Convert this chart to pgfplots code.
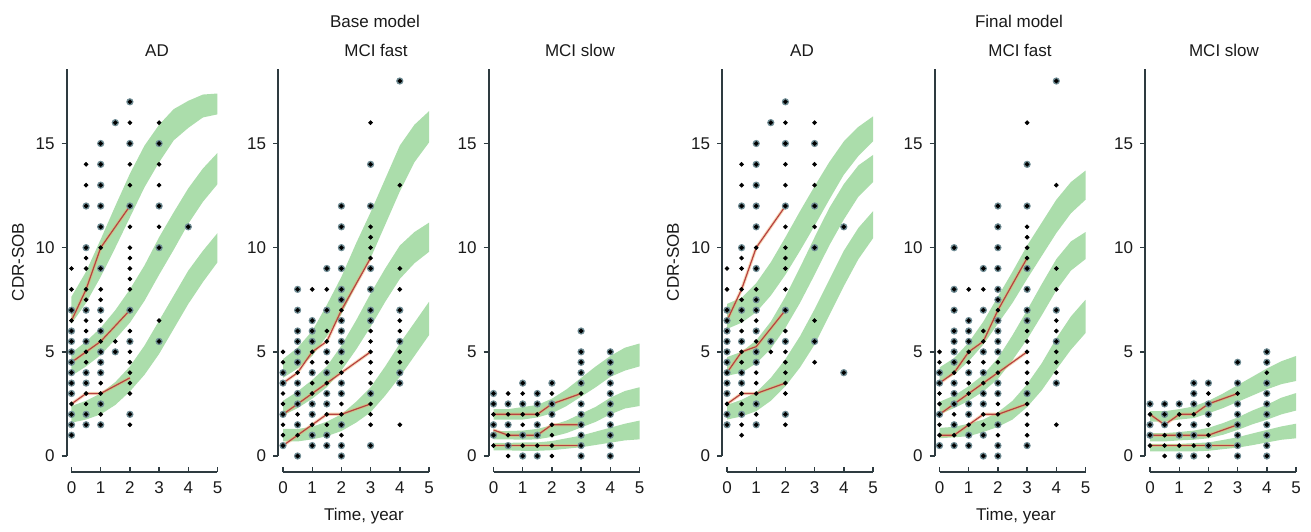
\documentclass[border=0pt]{standalone}
\usepackage{pgfplots}
\pgfplotsset{compat=1.18}
\usepackage{fontspec}
\setmainfont{Liberation Sans}
\definecolor{bandg}{HTML}{ABDDAB}
\definecolor{axcol}{HTML}{2E3B40}
\definecolor{halocol}{HTML}{6F8C94}
\definecolor{obsred}{HTML}{B8423F}
\definecolor{obsorange}{HTML}{EBA866}
\definecolor{txt}{HTML}{1A1A1A}
\newcommand{\fs}{\fontsize{8.5}{10}\selectfont}
\pgfplotsset{
  panel/.style={
    scale only axis, width=73pt, height=193.75pt,
    xmin=0, xmax=5, ymin=0, ymax=18.6,
    axis x line=bottom, axis y line=left,
    axis line style={-, draw=axcol, line width=1pt},
    axis x line shift=8pt, axis y line shift=2.4pt,
    xtick={0,1,2,3,4,5}, ytick={0,5,10,15},
    tick style={draw=axcol, line width=0.7pt},
    major tick length=2.5pt, tick align=outside,
    x tick style={yshift=2.5pt},
    xticklabel style={yshift=1pt},
    /pgf/number format/assume math mode=true,
    tick label style={font=\fs, text=txt},
    clip=false, anchor=south west,
  },
  band/.style={fill=bandg, draw=none},
  halo/.style={only marks, mark=*, color=halocol, mark size=1.6pt, mark options={fill=halocol, draw=none}},
  dots/.style={only marks, mark=*, color=black, mark size=0.95pt, mark options={fill=black, draw=none}},
  obsu/.style={draw=obsorange, line width=1.6pt, opacity=0.45, no marks},
  obs/.style={draw=obsred, line width=0.6pt, no marks},
}
\newcommand{\obsline}[1]{\addplot[obsu] coordinates {#1};\addplot[obs] coordinates {#1};}
\begin{document}
\begin{tikzpicture}
\useasboundingbox (0,0) rectangle (655.5pt,-265.5pt);
\tikzset{every node/.style={font=\fs, text=txt}}
% ---------- Base model: AD ----------
\begin{axis}[panel, at={(35.75pt,-228pt)}]
\addplot[band] coordinates {(0,7.65)(0.5,8.85)(1,10.4)(1.5,12.0)(2,13.55)(2.5,14.9)(3,15.9)(3.5,16.65)(4,17.05)(4.5,17.35)(5,17.4)(5,16.4)(4.5,16.25)(4,15.75)(3.5,15.15)(3,14.1)(2.5,12.9)(2,11.45)(1.5,10.0)(1,8.6)(0.5,7.35)(0,6.35)};
\addplot[band] coordinates {(0,4.95)(0.5,5.5)(1,6.15)(1.5,7.0)(2,8.0)(2.5,9.15)(3,10.5)(3.5,11.7)(4,12.85)(4.5,13.8)(5,14.55)(5,13.05)(4.5,12.2)(4,11.15)(3.5,9.9)(3,8.7)(2.5,7.45)(2,6.4)(1.5,5.6)(1,4.85)(0.5,4.3)(0,3.85)};
\addplot[band] coordinates {(0,2.4)(0.5,2.65)(1,3.0)(1.5,3.55)(2,4.3)(2.5,5.3)(3,6.5)(3.5,7.7)(4,8.9)(4.5,9.85)(5,10.7)(5,9.3)(4.5,8.35)(4,7.3)(3.5,6.1)(3,4.9)(2.5,3.9)(2,3.1)(1.5,2.45)(1,2.0)(0.5,1.75)(0,1.6)};
\addplot[halo] coordinates {(0,1)(0,1.5)(0,2)(0,3)(0,3.5)(0,4)(0,4.5)(0,5)(0,5.5)(0,6)(0,7)(0.5,1.5)(0.5,2)(0.5,3.5)(0.5,4)(0.5,5.5)(0.5,7)(0.5,10)(0.5,12)(1,1.5)(1,2.5)(1,4)(1,4.5)(1,5)(1,6)(1,7)(1,9)(1,11)(1,12)(1,13)(1,14)(1,15)(1.5,5)(1.5,16)(2,2)(2,5.5)(2,7)(2,12)(2,15)(2,17)(3,5.5)(3,10)(3,12)(3,15)(4,11)};
\obsline{(0,6.5)(0.5,8)(1,10)(2,12)}
\obsline{(0,4.5)(0.5,5)(1,5.5)(2,7)}
\obsline{(0,2.5)(0.5,3)(1,3)(2,3.75)}
\addplot[dots] coordinates {(0,1)(0,1.5)(0,2)(0,2.5)(0,3)(0,3.5)(0,4)(0,4.5)(0,5)(0,5.5)(0,6)(0,6.5)(0,7)(0,8)(0,9)
(0.5,1.5)(0.5,2)(0.5,2.5)(0.5,3)(0.5,3.5)(0.5,4)(0.5,4.5)(0.5,5)(0.5,5.5)(0.5,6)(0.5,6.5)(0.5,7)(0.5,7.5)(0.5,8)(0.5,9)(0.5,9.5)(0.5,10)(0.5,12)(0.5,13)(0.5,14)
(1,1.5)(1,2)(1,2.5)(1,3)(1,3.5)(1,4)(1,4.5)(1,5)(1,5.5)(1,6)(1,6.5)(1,7)(1,7.5)(1,8)(1,9)(1,10)(1,11)(1,12)(1,13)(1,14)(1,15)
(1.5,5)(1.5,5.5)(1.5,16)
(2,1.5)(2,2)(2,3)(2,3.5)(2,4)(2,4.5)(2,5)(2,5.5)(2,6)(2,7)(2,8)(2,8.5)(2,9)(2,9.5)(2,10)(2,11)(2,12)(2,13)(2,14)(2,15)(2,16)(2,17)
(3,5.5)(3,6.5)(3,10)(3,11)(3,12)(3,13)(3,14)(3,15)(3,16)(4,11)};
\end{axis}
% ---------- Base model: MCI fast ----------
\begin{axis}[panel, at={(141.5pt,-228pt)}]
\addplot[band] coordinates {(0,4.65)(0.5,5.2)(1,6.0)(1.5,7.25)(2,8.6)(2.5,10.2)(3,11.7)(3.5,13.3)(4,14.9)(4.5,15.9)(5,16.55)(5,15.05)(4.5,14.1)(4,12.7)(3.5,11.1)(3,9.5)(2.5,8.2)(2,6.8)(1.5,5.75)(1,4.8)(0.5,4.2)(0,3.75)};
\addplot[band] coordinates {(0,2.65)(0.5,3.1)(1,3.65)(1.5,4.3)(2,5.3)(2.5,6.5)(3,7.8)(3.5,9.0)(4,10.1)(4.5,10.75)(5,11.2)(5,9.8)(4.5,9.25)(4,8.5)(3.5,7.4)(3,6.2)(2.5,5.1)(2,4.1)(1.5,3.3)(1,2.75)(0.5,2.3)(0,1.95)};
\addplot[band] coordinates {(0,1.3)(0.5,1.3)(1,1.4)(1.5,1.65)(2,2.0)(2.5,2.6)(3,3.3)(3.5,4.3)(4,5.4)(4.5,6.4)(5,7.4)(5,5.8)(4.5,4.8)(4,3.8)(3.5,2.9)(3,2.1)(2.5,1.6)(2,1.2)(1.5,0.95)(1,0.8)(0.5,0.7)(0,0.7)};
\addplot[halo] coordinates {(0,4)(0,3.5)(0,2)(0,0.5)(0.5,8)(0.5,7)(0.5,6)(0.5,5.5)(0.5,5)(0.5,4.5)(0.5,3.5)(0.5,3)(0.5,2.5)(0.5,1.5)(0.5,0)(1,6.5)(1,6)(1,5.5)(1,4)(1,2.5)(1,2)(1,1)(1,0.5)(1.5,9)(1.5,7)(1.5,5)(1.5,4)(1.5,3)(1.5,2.5)(1.5,1)(1.5,0.5)(2,12)(2,11)(2,10)(2,9)(2,8)(2,7.5)(2,6.5)(2,6)(2,5.5)(2,5)(2,3.5)(2,3)(2,1.5)(2,0.5)(2,0)(3,14)(3,12)(3,9)(3,8)(3,7)(3,6.5)(3,3)(3,0.5)(4,18)(4,7)(4,5.5)(4,4)(4,3.5)};
\obsline{(0,3.5)(0.5,4)(1,5)(1.5,5.5)(2,7)(3,9.5)}
\obsline{(0,2)(0.5,2.5)(1,3)(1.5,3.5)(2,4)(3,5)}
\obsline{(0,0.5)(0.5,1)(1,1.5)(1.5,2)(2,2)(3,2.5)}
\addplot[dots] coordinates {(0,0.5)(0,1)(0,1.5)(0,2)(0,2.5)(0,3)(0,3.5)(0,4)(0,4.5)(0,5)
(0.5,0)(0.5,1)(0.5,1.5)(0.5,2)(0.5,2.5)(0.5,3)(0.5,3.5)(0.5,4)(0.5,4.5)(0.5,5)(0.5,5.5)(0.5,6)(0.5,7)(0.5,8)
(1,0.5)(1,1)(1,1.5)(1,2)(1,2.5)(1,3)(1,3.5)(1,4)(1,4.5)(1,5)(1,5.5)(1,6)(1,6.5)(1,8)
(1.5,0.5)(1.5,1)(1.5,1.5)(1.5,2)(1.5,2.5)(1.5,3)(1.5,3.5)(1.5,4)(1.5,4.5)(1.5,5)(1.5,5.5)(1.5,6)(1.5,7)(1.5,8)(1.5,9)
(2,0)(2,0.5)(2,1)(2,1.5)(2,2)(2,2.5)(2,3)(2,3.5)(2,4)(2,4.5)(2,5)(2,5.5)(2,6)(2,6.5)(2,7)(2,7.5)(2,8)(2,9)(2,10)(2,11)(2,12)
(3,0.5)(3,1.5)(3,2)(3,2.5)(3,3)(3,3.5)(3,4)(3,4.5)(3,5)(3,5.5)(3,6)(3,6.5)(3,7)(3,8)(3,9)(3,9.5)(3,10)(3,10.5)(3,11)(3,12)(3,14)(3,16)
(4,1.5)(4,3.5)(4,4)(4,4.5)(4,5)(4,5.5)(4,6)(4,6.5)(4,7)(4,8)(4,9)(4,13)(4,18)};
\end{axis}
% ---------- Base model: MCI slow ----------
\begin{axis}[panel, at={(246.75pt,-228pt)}]
\addplot[band] coordinates {(0,2.25)(0.5,2.25)(1,2.35)(1.5,2.45)(2,2.75)(2.5,3.2)(3,3.75)(3.5,4.3)(4,4.8)(4.5,5.2)(5,5.4)(5,4.3)(4.5,4.1)(4,3.8)(3.5,3.3)(3,2.85)(2.5,2.4)(2,2.05)(1.5,1.85)(1,1.75)(0.5,1.75)(0,1.75)};
\addplot[band] coordinates {(0,1.2)(0.5,1.2)(1,1.22)(1.5,1.3)(2,1.48)(2.5,1.7)(3,2.03)(3.5,2.36)(4,2.8)(4.5,3.12)(5,3.3)(5,2.4)(4.5,2.28)(4,2.0)(3.5,1.64)(3,1.37)(2.5,1.1)(2,0.92)(1.5,0.8)(1,0.78)(0.5,0.8)(0,0.8)};
\addplot[band] coordinates {(0,0.63)(0.5,0.63)(1,0.65)(1.5,0.65)(2,0.72)(2.5,0.85)(3,0.98)(3.5,1.17)(4,1.36)(4.5,1.55)(5,1.7)(5,0.8)(4.5,0.75)(4,0.64)(3.5,0.53)(3,0.42)(2.5,0.35)(2,0.28)(1.5,0.25)(1,0.25)(0.5,0.27)(0,0.27)};
\addplot[halo] coordinates {(0,3)(0,2.5)(0,1.5)(0,1)(0.5,2.5)(0.5,1.5)(0.5,0.5)(1,3.5)(1,2.5)(1,1)(1,0)(1.5,3)(1.5,2.5)(1.5,1.5)(1.5,1)(1.5,0)(2,3.5)(2,2.5)(2,2)(3,6)(3,5)(3,4.5)(3,4)(3,3.5)(3,2.5)(3,2)(3,1.5)(3,1)(3,0.5)(3,0)(4,5)(4,4.5)(4,4)(4,3.5)(4,3)(4,2.5)(4,2)(4,1.5)(4,1)(4,0.5)(4,0)};
\obsline{(0,2)(0.5,2)(1,2)(1.5,2)(2,2.5)(3,3)}
\obsline{(0,1.25)(0.5,1)(1,1)(1.5,1)(2,1.5)(3,1.5)}
\obsline{(0,0.5)(0.5,0.5)(1,0.5)(1.5,0.5)(2,0.5)(3,0.5)}
\addplot[dots] coordinates {(0,0.5)(0,1)(0,1.5)(0,2)(0,2.5)(0,3)
(0.5,0)(0.5,0.5)(0.5,1)(0.5,1.5)(0.5,2)(0.5,2.5)(0.5,3)
(1,0)(1,0.5)(1,1)(1,1.5)(1,2)(1,2.5)(1,3)(1,3.5)
(1.5,0)(1.5,0.5)(1.5,1)(1.5,1.5)(1.5,2)(1.5,2.5)(1.5,3)
(2,0)(2,0.5)(2,1)(2,1.5)(2,2)(2,2.5)(2,3)(2,3.5)
(3,0)(3,0.5)(3,1)(3,1.5)(3,2)(3,2.5)(3,3)(3,3.5)(3,4)(3,4.5)(3,5)(3,6)
(4,0)(4,0.5)(4,1)(4,1.5)(4,2)(4,2.5)(4,3)(4,3.5)(4,4)(4,4.5)(4,5)};
\end{axis}
% ---------- Final model: AD ----------
\begin{axis}[panel, at={(363.5pt,-228pt)}]
\addplot[band] coordinates {(0,7.3)(0.5,7.6)(1,8.3)(1.5,9.3)(2,10.5)(2.5,11.75)(3,12.95)(3.5,14.1)(4,15.1)(4.5,15.8)(5,16.3)(5,15.1)(4.5,14.4)(4,13.5)(3.5,12.3)(3,11.05)(2.5,9.85)(2,8.7)(1.5,7.7)(1,6.9)(0.5,6.4)(0,6.1)};
\addplot[band] coordinates {(0,4.75)(0.5,5.0)(1,5.55)(1.5,6.45)(2,7.65)(2.5,9.05)(3,10.5)(3.5,11.9)(4,13.05)(4.5,13.95)(5,14.45)(5,13.15)(4.5,12.45)(4,11.35)(3.5,10.1)(3,8.7)(2.5,7.35)(2,6.15)(1.5,5.15)(1,4.45)(0.5,4.0)(0,3.85)};
\addplot[band] coordinates {(0,2.45)(0.5,2.7)(1,3.05)(1.5,3.75)(2,4.65)(2.5,5.75)(3,7.05)(3.5,8.45)(4,9.85)(4.5,10.95)(5,11.75)(5,10.45)(4.5,9.45)(4,8.15)(3.5,6.75)(3,5.35)(2.5,4.25)(2,3.35)(1.5,2.65)(1,2.15)(0.5,1.9)(0,1.75)};
\addplot[halo] coordinates {(0,1.5)(0,2)(0,3)(0,3.5)(0,4)(0,4.5)(0,5)(0,5.5)(0,6)(0,6.5)(0,7)(0.5,2)(0.5,3.5)(0.5,4)(0.5,5.5)(0.5,7)(0.5,10)(0.5,12)(1,1.5)(1,2.5)(1,4.5)(1,5)(1,6)(1,7)(1,7.5)(1,9)(1,11)(1,12)(1,13)(1,14)(1,15)(1.5,5.5)(1.5,16)(2,2)(2,5.5)(2,7)(2,12)(2,15)(2,17)(3,5.5)(3,10)(3,12)(3,15)(4,4)(4,11)};
\obsline{(0,6.5)(0.5,8)(1,10)(2,12)}
\obsline{(0,4)(0.5,5)(1,5.25)(2,7)}
\obsline{(0,2.5)(0.5,3)(1,3)(2,3.5)}
\addplot[dots] coordinates {(0,1.5)(0,2)(0,2.5)(0,3)(0,3.5)(0,4)(0,4.5)(0,5)(0,5.5)(0,6)(0,6.5)(0,7)(0,8)(0,9)
(0.5,1)(0.5,1.5)(0.5,2)(0.5,2.5)(0.5,3)(0.5,3.5)(0.5,4)(0.5,4.5)(0.5,5)(0.5,5.5)(0.5,6)(0.5,6.5)(0.5,7)(0.5,7.5)(0.5,8)(0.5,9)(0.5,9.5)(0.5,10)(0.5,12)(0.5,13)(0.5,14)
(1,1.5)(1,2)(1,2.5)(1,3)(1,3.5)(1,4)(1,4.5)(1,5)(1,5.5)(1,6)(1,6.5)(1,7)(1,7.5)(1,8)(1,9)(1,10)(1,11)(1,12)(1,13)(1,14)(1,15)
(1.5,5)(1.5,5.5)(1.5,16)
(2,1.5)(2,2)(2,3)(2,3.5)(2,4)(2,4.5)(2,5)(2,5.5)(2,6)(2,7)(2,8)(2,9)(2,9.5)(2,10)(2,11)(2,12)(2,13)(2,14)(2,15)(2,16)(2,17)
(3,4.5)(3,5.5)(3,6.5)(3,10)(3,11)(3,12)(3,13)(3,14)(3,15)(3,16)(4,4)(4,11)};
\end{axis}
% ---------- Final model: MCI fast ----------
\begin{axis}[panel, at={(469.75pt,-228pt)}]
\addplot[band] coordinates {(0,4.25)(0.5,4.7)(1,5.45)(1.5,6.45)(2,7.65)(2.5,8.85)(3,10.1)(3.5,11.2)(4,12.3)(4.5,13.15)(5,13.7)(5,12.3)(4.5,11.65)(4,10.7)(3.5,9.6)(3,8.5)(2.5,7.35)(2,6.35)(1.5,5.35)(1,4.55)(0.5,3.9)(0,3.55)};
\addplot[band] coordinates {(0,2.6)(0.5,2.9)(1,3.35)(1.5,3.9)(2,4.7)(2.5,5.8)(3,7.0)(3.5,8.25)(4,9.45)(4.5,10.3)(5,10.75)(5,9.45)(4.5,8.9)(4,7.95)(3.5,6.75)(3,5.6)(2.5,4.6)(2,3.7)(1.5,3.1)(1,2.65)(0.5,2.3)(0,2.0)};
\addplot[band] coordinates {(0,1.35)(0.5,1.4)(1,1.55)(1.5,1.75)(2,2.1)(2.5,2.65)(3,3.45)(3.5,4.45)(4,5.65)(4.5,6.7)(5,7.5)(5,5.9)(4.5,5.1)(4,4.15)(3.5,3.15)(3,2.35)(2.5,1.75)(2,1.4)(1.5,1.15)(1,0.95)(0.5,0.9)(0,0.85)};
\addplot[halo] coordinates {(0,4)(0,3.5)(0,2)(0,0.5)(0.5,10)(0.5,8)(0.5,7)(0.5,6)(0.5,5.5)(0.5,5)(0.5,4.5)(0.5,3.5)(0.5,3)(0.5,2.5)(0.5,1.5)(0.5,0.5)(1,6.5)(1,6)(1,5.5)(1,4)(1,2.5)(1,2)(1,1)(1,0.5)(1.5,9)(1.5,7)(1.5,5)(1.5,4)(1.5,3)(1.5,2.5)(1.5,1)(1.5,0)(2,12)(2,11)(2,10)(2,9)(2,8)(2,7.5)(2,6.5)(2,6)(2,5.5)(2,5)(2,3.5)(2,3)(2,1.5)(2,0.5)(2,0)(3,14)(3,12)(3,9)(3,8)(3,7)(3,6.5)(3,3)(3,0.5)(4,18)(4,7)(4,5.5)(4,3.5)};
\obsline{(0,3.5)(0.5,4)(1,5)(1.5,5.5)(2,7)(3,9.5)}
\obsline{(0,2)(0.5,2.5)(1,3)(1.5,3.5)(2,4)(3,5)}
\obsline{(0,1)(0.5,1)(1,1.5)(1.5,2)(2,2)(3,2.5)}
\addplot[dots] coordinates {(0,0.5)(0,1)(0,1.5)(0,2)(0,2.5)(0,3)(0,3.5)(0,4)(0,4.5)(0,5)
(0.5,0.5)(0.5,1)(0.5,1.5)(0.5,2)(0.5,2.5)(0.5,3)(0.5,3.5)(0.5,4)(0.5,4.5)(0.5,5)(0.5,5.5)(0.5,6)(0.5,7)(0.5,8)(0.5,10)
(1,0.5)(1,1)(1,1.5)(1,2)(1,2.5)(1,3)(1,3.5)(1,4)(1,4.5)(1,5)(1,5.5)(1,6)(1,6.5)(1,8)
(1.5,0)(1.5,1)(1.5,1.5)(1.5,2)(1.5,2.5)(1.5,3)(1.5,3.5)(1.5,4)(1.5,4.5)(1.5,5)(1.5,5.5)(1.5,6)(1.5,7)(1.5,8)(1.5,9)
(2,0)(2,0.5)(2,1)(2,1.5)(2,2)(2,2.5)(2,3)(2,3.5)(2,4)(2,4.5)(2,5)(2,5.5)(2,6)(2,6.5)(2,7)(2,7.5)(2,8)(2,9)(2,10)(2,11)(2,12)
(3,0.5)(3,1)(3,1.5)(3,2)(3,2.5)(3,3)(3,3.5)(3,4)(3,4.5)(3,5)(3,5.5)(3,6)(3,6.5)(3,7)(3,8)(3,9)(3,9.5)(3,10)(3,10.5)(3,11)(3,12)(3,14)(3,16)
(4,1.5)(4,3.5)(4,4)(4,4.5)(4,5)(4,5.5)(4,6)(4,6.5)(4,7)(4,8)(4,9)(4,13)(4,18)};
\end{axis}
% ---------- Final model: MCI slow ----------
\begin{axis}[panel, at={(575pt,-228pt)}]
\addplot[band] coordinates {(0,2.15)(0.5,2.15)(1,2.25)(1.5,2.38)(2,2.65)(2.5,3.0)(3,3.4)(3.5,3.8)(4,4.2)(4.5,4.55)(5,4.8)(5,3.6)(4.5,3.45)(4,3.2)(3.5,2.9)(3,2.6)(2.5,2.3)(2,2.05)(1.5,1.82)(1,1.75)(0.5,1.65)(0,1.65)};
\addplot[band] coordinates {(0,1.1)(0.5,1.1)(1,1.15)(1.5,1.22)(2,1.35)(2.5,1.58)(3,1.85)(3.5,2.18)(4,2.46)(4.5,2.8)(5,3.02)(5,2.18)(4.5,2.0)(4,1.74)(3.5,1.52)(3,1.25)(2.5,1.02)(2,0.85)(1.5,0.78)(1,0.75)(0.5,0.7)(0,0.7)};
\addplot[band] coordinates {(0,0.58)(0.5,0.58)(1,0.58)(1.5,0.62)(2,0.65)(2.5,0.77)(3,0.9)(3.5,1.08)(4,1.25)(4.5,1.42)(5,1.55)(5,0.85)(4.5,0.78)(4,0.65)(3.5,0.52)(3,0.4)(2.5,0.33)(2,0.25)(1.5,0.22)(1,0.22)(0.5,0.22)(0,0.22)};
\addplot[halo] coordinates {(0,2.5)(0,1.5)(0,1)(0.5,2.5)(0.5,2)(0.5,1.5)(1,2.5)(1,1)(1,0)(1.5,3.5)(1.5,3)(1.5,2.5)(1.5,1.5)(1.5,1)(1.5,0)(2,3.5)(2,2.5)(2,2)(2,0.5)(3,4.5)(3,3.5)(3,2.5)(3,2)(3,1.5)(3,1)(3,0.5)(3,0)(4,5)(4,4.5)(4,3.5)(4,3)(4,2.5)(4,2)(4,1.5)(4,1)(4,0.5)(4,0)};
\obsline{(0,2)(0.5,1.5)(1,2)(1.5,2)(2,2.5)(3,3)}
\obsline{(0,1)(0.5,1)(1,1)(1.5,1)(2,1)(3,1.5)}
\obsline{(0,0.5)(0.5,0.5)(1,0.5)(1.5,0.5)(2,0.5)(3,0.5)}
\addplot[dots] coordinates {(0,0.5)(0,1)(0,1.5)(0,2)(0,2.5)
(0.5,0)(0.5,0.5)(0.5,1)(0.5,1.5)(0.5,2)(0.5,2.5)
(1,0)(1,0.5)(1,1)(1,1.5)(1,2)(1,2.5)
(1.5,0)(1.5,0.5)(1.5,1)(1.5,1.5)(1.5,2)(1.5,2.5)(1.5,3)(1.5,3.5)
(2,0)(2,0.5)(2,1)(2,1.5)(2,2)(2,2.5)(2,3)(2,3.5)
(3,0)(3,0.5)(3,1)(3,1.5)(3,2)(3,2.5)(3,3)(3,3.5)(3,4.5)
(4,0)(4,0.5)(4,1)(4,1.5)(4,2)(4,2.5)(4,3)(4,3.5)(4,4)(4,4.5)(4,5)};
\end{axis}
% ---------- labels ----------
\node at (187.5pt,-10.85pt) {Base model};
\node at (509.5pt,-10.85pt) {Final model};
\node at (78.5pt,-25.15pt) {AD};
\node at (188pt,-25.15pt) {MCI fast};
\node at (290pt,-25.15pt) {MCI slow};
\node at (401pt,-25.15pt) {AD};
\node at (510pt,-25.15pt) {MCI fast};
\node at (612pt,-25.15pt) {MCI slow};
\node at (182pt,-258pt) {Time, year};
\node at (508pt,-258pt) {Time, year};
\node[rotate=90] at (9pt,-131pt) {CDR-SOB};
\node[rotate=90] at (336.5pt,-131pt) {CDR-SOB};
\end{tikzpicture}
\end{document}
